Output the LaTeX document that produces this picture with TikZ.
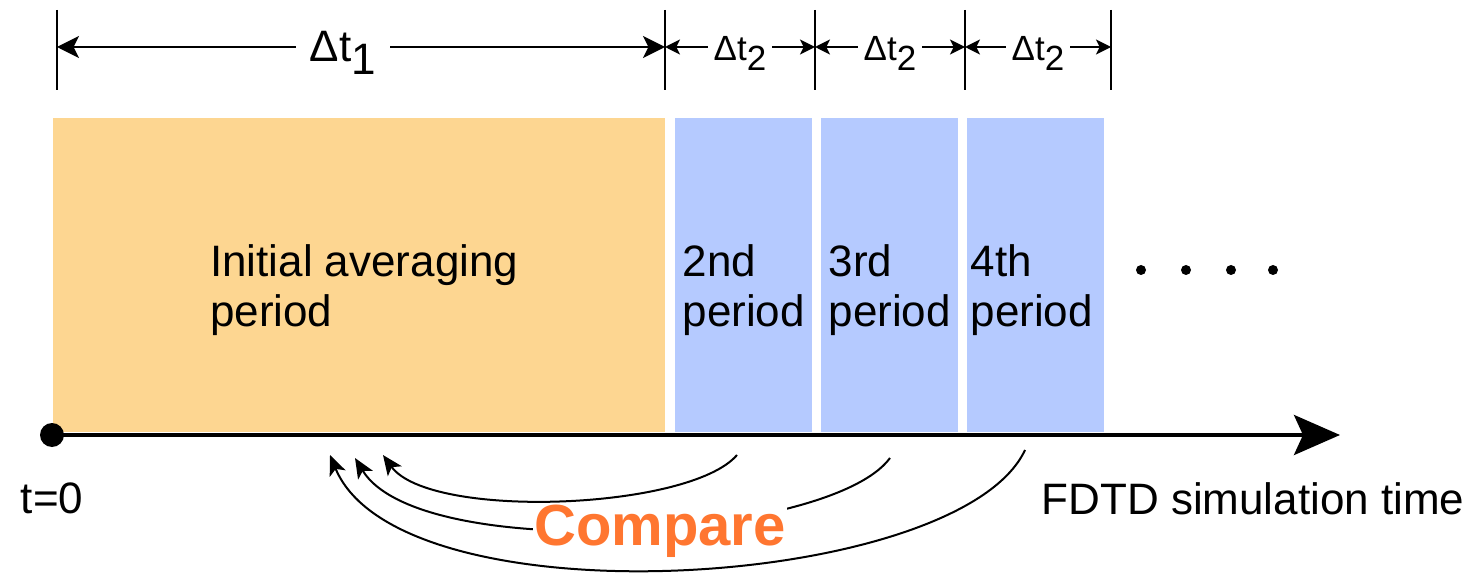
\documentclass[tikz,border=0pt]{standalone}
\usepackage{fontspec}
\setmainfont{Liberation Sans}
\usetikzlibrary{arrows.meta, positioning, calc}
\definecolor{avgorange}{RGB}{253,214,145}
\definecolor{periodblue}{RGB}{181,202,255}
\definecolor{compareorange}{RGB}{255,118,48}
\newcommand{\lowsub}[1]{\raisebox{-0.28em}{#1}}

\begin{document}
\begin{tikzpicture}[x=1pt, y=-1pt,
    periodbox/.style={fill=#1, draw=none, minimum height=314pt, anchor=north west, inner sep=0pt},
    boxtext/.style={align=left, font=\fontsize{44}{50}\selectfont},
    axistext/.style={anchor=base, font=\fontsize{44}{50}\selectfont},
    tickline/.style={line width=2.2pt},
    dimarrow/.style={line width=2pt, -{Stealth[length=#1, width=#1, inset=0.25*#1]}},
    cmparc/.style={line width=2pt, -{Stealth[length=20pt, width=17pt, inset=5pt]}}]
  \useasboundingbox (0,0) rectangle (1473,577);

  % averaging periods
  \node[periodbox=avgorange, minimum width=612pt] (init) at (53,118) {};
  \node[periodbox=periodblue, minimum width=137pt] (p2) at (675,118) {};
  \node[periodbox=periodblue, minimum width=137pt] (p3) at (821,118) {};
  \node[periodbox=periodblue, minimum width=137pt] (p4) at (967,118) {};

  \node[boxtext] (tinit) at ([xshift=5pt, yshift=-15pt]init.center) {Initial averaging\\period};
  \node[boxtext] (t2) at ([yshift=-15pt]p2.center) {2nd\\period};
  \node[boxtext] (t3) at ([yshift=-15pt]p3.center) {3rd\\period};
  \node[boxtext] (t4) at ([xshift=-4pt, yshift=-15pt]p4.center) {4th\\period};

  \foreach \x [count=\i] in {1141,1186,1231,1273}
    \node[circle, fill=black, inner sep=0pt, minimum size=10pt] (dot\i) at (\x,270) {};

  % time axis
  \node[circle, fill=black, inner sep=0pt, minimum size=24pt] (t0) at (52,435) {};
  \coordinate (tend) at (1340,435);
  \draw[line width=4pt, -{Stealth[length=46pt, width=40pt, inset=9pt]}] (t0.center) -- (tend);
  \node[axistext] (tzero) at (52,513) {t=0};
  \node[axistext] (simtime) at (1253,514) {FDTD simulation time};

  % interval marks
  \foreach \x/\n in {57/0,665/1,815/2,965/3,1111/4}{
    \coordinate (k\n) at (\x,47);
    \draw[tickline] ([yshift=37pt]k\n) -- ([yshift=-43pt]k\n);
  }
  \node[anchor=base, inner xsep=14pt, font=\fontsize{44}{46}\selectfont] (dt1) at (343,62) {Δt\lowsub{1}};
  \draw[dimarrow=22pt] (dt1.west |- k0) -- (k0);
  \draw[dimarrow=22pt] (dt1.east |- k0) -- (k1);
  \foreach \a/\b/\n in {1/2/2,2/3/3,3/4/4}{
    \node[anchor=base, inner xsep=6pt, font=\fontsize{35}{38}\selectfont] (dt\n) at ($(k\a)!0.5!(k\b)+(0,14)$) {Δt\lowsub{2}};
    \draw[dimarrow=15pt] (dt\n.west |- k\a) -- (k\a);
    \draw[dimarrow=15pt] (dt\n.east |- k\b) -- (k\b);
  }

  % comparisons
  \coordinate (c2s) at (737,455);  \coordinate (c2e) at (383,455);
  \coordinate (c3s) at (890,458);  \coordinate (c3e) at (355,458);
  \coordinate (c4s) at (1025,450); \coordinate (c4e) at (330,455);
  \draw[cmparc] (c2s) .. controls (690,510) and (430,520) .. (c2e);
  \draw[cmparc] (c3s) .. controls (830,540) and (420,565) .. (c3e);
  \draw[cmparc] (c4s) .. controls (960,590) and (400,625) .. (c4e);
  \node[anchor=base, fill=white, inner sep=1pt, text=compareorange,
    font=\bfseries\fontsize{58}{60}\selectfont] (cmp) at (660,545) {Compare};
\end{tikzpicture}
\end{document}
